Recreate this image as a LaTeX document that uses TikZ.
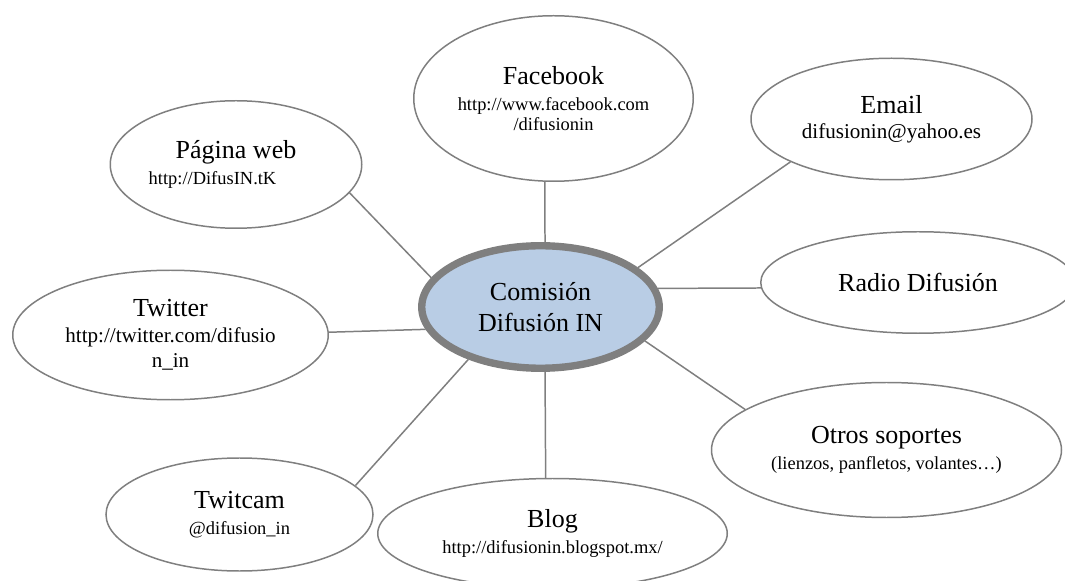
\documentclass[tikz,border=0pt]{standalone}
\usepackage{fontspec}
\setmainfont{Liberation Serif}
\usepackage{tikz}
\usetikzlibrary{shapes.geometric}
\usepackage{xcolor}

\definecolor{hubblue}{HTML}{B9CDE5}
\definecolor{rimgray}{HTML}{7F7F7F}

\newcommand{\addrsmall}[1]{{\fontsize{10.5}{12}\selectfont #1}}
\newcommand{\addrlarge}[1]{{\fontsize{12}{14}\selectfont #1}}

\begin{document}
\begin{tikzpicture}[
  hub/.style={ellipse, fill=hubblue, draw=rimgray, line width=4.2pt,
    minimum width=4.75cm, minimum height=2.45cm, inner sep=0pt, align=center,
    font=\fontsize{14.8}{18}\selectfont},
  channel/.style={ellipse, draw=rimgray, line width=0.85pt, inner sep=0pt,
    align=center, font=\fontsize{14.8}{14.5}\selectfont},
  link/.style={draw=rimgray, line width=0.85pt}
]
\clip (0,0) rectangle (21.3,11.6);

% Central node
\node[hub] (com) at (10.81,5.46) {Comisión\\Difusión IN};

% Channels around it
\node[channel, minimum width=5.59cm, minimum height=3.31cm] (fb) at (11.07,9.63)
  {Facebook\\\addrsmall{http://www.facebook.com}\\[-3.1pt]\addrsmall{/difusionin}};
\node[channel, minimum width=5.03cm, minimum height=2.55cm] (pag) at (4.72,8.31)
  {Página web\\\addrsmall{http://DifusIN.tK\hspace*{0.94cm}}};
\node[channel, minimum width=5.62cm, minimum height=2.43cm] (email) at (17.83,9.22)
  {Email\\\addrlarge{difusionin@yahoo.es}};
\node[channel, minimum width=6.29cm, minimum height=2.03cm] (radio) at (18.36,5.95)
  {Radio Difusión};
\node[channel, minimum width=6.31cm, minimum height=2.59cm] (tw) at (3.41,4.90)
  {Twitter\\\addrlarge{http://twitter.com/difusio}\\\addrlarge{n\_in}};
\node[channel, minimum width=7.00cm, minimum height=2.70cm] (otros) at (17.73,2.60)
  {Otros soportes\\\addrsmall{(lienzos, panfletos, volantes…)}};
\node[channel, minimum width=5.34cm, minimum height=2.26cm] (cam) at (4.79,1.31)
  {Twitcam\\\addrsmall{@difusion\_in}};
\node[channel, minimum width=6.99cm, minimum height=2.20cm] (blog) at (11.05,0.93)
  {Blog\\\addrsmall{http://difusionin.blogspot.mx/}};

% Spokes
\draw[link] (com.165.1) -- (pag.-14.9);
\draw[link] (com.86) -- (fb.264.2);
\draw[link] (com.22.6) -- (email.203.1);
\draw[link] (com.9.7) -- (radio.182.7);
\draw[link] (com.191.3) -- (tw.1.8);
\draw[link] (com.216.9) -- (cam.14.9);
\draw[link] (com.-18.5) -- (otros.164.9);
\draw[link] (com.-86) -- (blog.97.7);

\end{tikzpicture}
\end{document}
